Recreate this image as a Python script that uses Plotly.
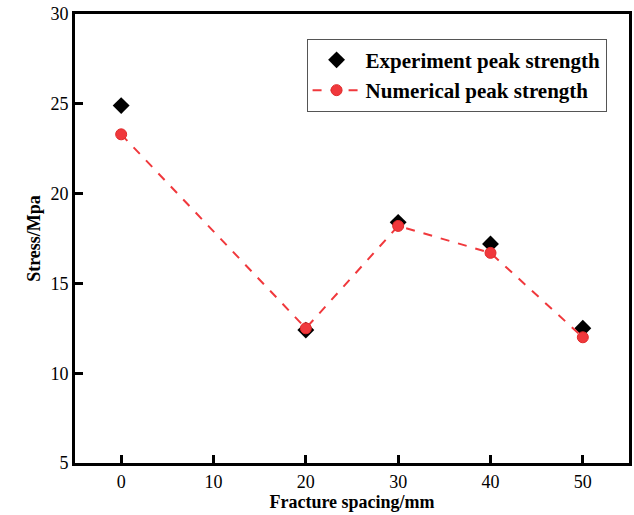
import plotly.graph_objects as go

spacing = [0, 20, 30, 40, 50]
experiment = [24.9, 12.4, 18.4, 17.2, 12.5]
numerical = [23.3, 12.5, 18.2, 16.7, 12.0]
x_ticks = [0, 10, 20, 30, 40, 50]
y_ticks = [5, 10, 15, 20, 25, 30]

FONT = "Liberation Serif"

fig = go.Figure()
fig.add_trace(go.Scatter(
    x=spacing, y=experiment, mode="markers",
    name="<b>Experiment peak strength</b>",
    marker=dict(symbol="diamond", size=13, color="black"),
))
fig.add_trace(go.Scatter(
    x=spacing, y=numerical, mode="lines+markers",
    name="<b>Numerical peak strength</b>",
    line=dict(color="#f0383c", width=2, dash="dash"),
    marker=dict(symbol="circle", size=11, color="#f0383c",
                line=dict(color="#e02a2a", width=1)),
))

axis_common = dict(
    showline=True, linecolor="black", linewidth=3, mirror=True,
    ticks="inside", ticklen=8, tickwidth=2.5, tickcolor="black",
    showgrid=False, zeroline=False,
    tickfont=dict(family=FONT, size=18, color="black"),
)

fig.update_layout(
    width=634, height=515,
    margin=dict(l=75, r=2, t=14, b=52),
    paper_bgcolor="white", plot_bgcolor="white",
    font=dict(family=FONT, color="black"),
    showlegend=True,
    legend=dict(
        x=0.418, y=0.945, xanchor="left", yanchor="top",
        bgcolor="white", bordercolor="#555555", borderwidth=1,
        font=dict(family=FONT, size=21, color="black"),
        tracegroupgap=0, itemwidth=48,
    ),
    xaxis=dict(
        range=[-5, 55], tickvals=x_ticks,
        title=dict(text="<b>Fracture spacing/mm</b>", font=dict(family=FONT, size=18), standoff=4),
        **axis_common,
    ),
    yaxis=dict(
        range=[5, 30], tickvals=y_ticks,
        title=dict(text="<b>Stress/Mpa</b>", font=dict(family=FONT, size=18), standoff=6),
        **axis_common,
    ),
)

fig.write_html("out.html")
